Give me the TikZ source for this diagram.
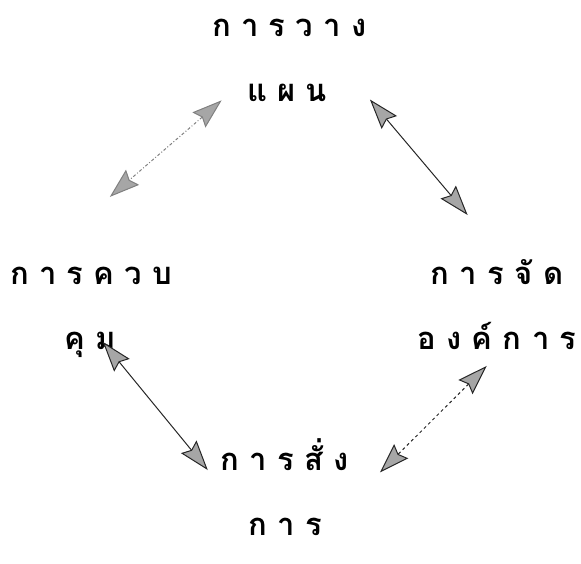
\documentclass[tikz,border=0pt]{standalone}
\usepackage{fontspec}
\newfontfamily\thaifont[Script=Thai, WordSpace=0.6]{Loma}
\usetikzlibrary{arrows.meta}

\begin{document}
\begin{tikzpicture}[
    x=1pt, y=-1pt,
    every node/.style={
        font=\thaifont\bfseries\fontsize{31}{65}\selectfont,
        align=center,
        inner sep=0pt
    },
    stage/.style={
        text width=#1,
        minimum height=120pt
    },
    link/.style={
        {Stealth[length=30pt, width=20pt, inset=4pt, fill=gray!70]}-{Stealth[length=30pt, width=20pt, inset=4pt, fill=gray!70]},
        line width=1pt,
        draw=black!85
    }
]
\useasboundingbox (0,0) rectangle (581,564);

\node[stage=150pt] (plan) at (287,60) {ก~า~ร~ว~า~ง\\แ~ผ~น};

\node[stage=160pt] (control) at (90,312) {ก~า~ร~ค~ว~บ\\คุ~ม};

\node[stage=160pt] (organ) at (497,305) {ก~า~ร~จั~ด\\อ~ง~ค์~ก~า~ร};

\node[stage=130pt] (command) at (285,487) {ก~า~ร~สั่~ง\\ก~า~ร};

\draw[link, dash dot, draw=gray, shorten <=-13pt, shorten >=84pt] (plan.213) -- (control.126);
\draw[link, shorten <=12pt, shorten >=39pt] (plan.338) -- (organ.94);
\draw[link, dashed, shorten <=1pt, shorten >=42pt] (organ.261) -- (command.347);
\draw[link, shorten <=-39pt, shorten >=19pt] (control.302) -- (command.178);

\end{tikzpicture}
\end{document}
